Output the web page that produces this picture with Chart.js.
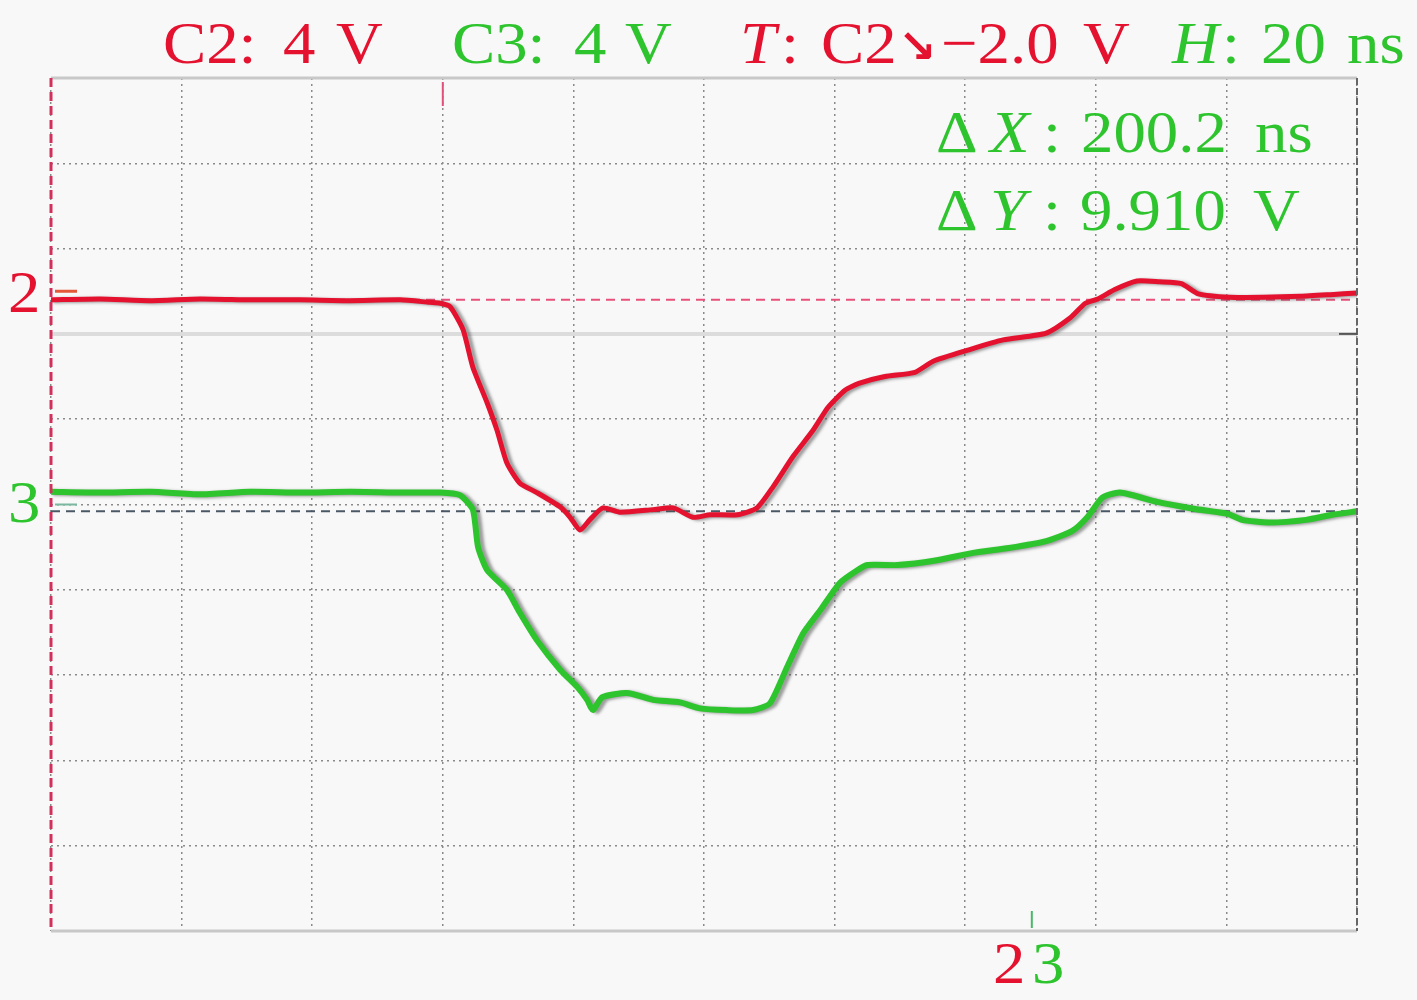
<!DOCTYPE html>
<html>
<head>
<meta charset="utf-8">
<script src="https://cdn.jsdelivr.net/npm/chart.js@4"></script>
<style>
  html, body { margin: 0; padding: 0; background: #f8f8f8; }
  #wrap { width: 1417px; height: 1000px; position: relative; }
</style>
</head>
<body>
<div id="wrap"><canvas id="scope"></canvas></div>
<script>
// time axis in ns (20 ns/div), vertical axis in screen divisions
const c2Time = [0, 7.5, 15.2, 22.8, 30.5, 38.1, 45.8, 53.5, 58.0, 59.6, 61.1, 63.1, 64.6, 66.8, 68.3, 69.8,
  71.8, 74.4, 78.0, 79.5, 81.0, 82.5, 84.5, 87.1, 92.2, 95.3, 98.3, 100.9, 105.1, 108.1, 110.6, 113.6,
  116.7, 119.0, 121.6, 123.7, 127.7, 132.3, 135.1, 140.4, 145.8, 152.4, 156.1, 158.4, 160.3, 162.9,
  166.3, 169.8, 173.1, 175.7, 180.6, 185.6, 191.3, 195.9, 200];
const c2Level = [2.40, 2.41, 2.39, 2.41, 2.40, 2.40, 2.39, 2.40, 2.37, 2.36, 2.32, 2.05, 1.61, 1.19, 0.87, 0.49,
  0.25, 0.14, -0.03, -0.15, -0.30, -0.18, -0.04, -0.09, -0.06, -0.04, -0.15, -0.12, -0.12, -0.04, 0.21, 0.56,
  0.87, 1.14, 1.34, 1.42, 1.50, 1.55, 1.68, 1.81, 1.93, 2.01, 2.19, 2.36, 2.41, 2.52,
  2.62, 2.61, 2.59, 2.47, 2.43, 2.43, 2.44, 2.46, 2.48];

const c3Time = [0, 7.5, 15.2, 22.8, 30.5, 38.1, 45.8, 53.5, 59.6, 62.6, 64.6, 65.4, 66.8, 69.8, 71.8, 74.4,
  78.0, 80.6, 82.1, 83.0, 84.4, 88.2, 92.2, 96.3, 99.4, 103.5, 107.5, 110.1, 112.7, 115.2, 117.8, 120.8,
  123.3, 125.0, 129.6, 135.2, 141.0, 146.7, 152.4, 156.4, 158.7, 161.0, 163.7, 169.4, 175.0, 180.2, 182.4,
  186.5, 192.2, 196.2, 200];
const c3Level = [0.15, 0.14, 0.15, 0.12, 0.15, 0.14, 0.15, 0.14, 0.14, 0.11, -0.06, -0.50, -0.77, -1.00, -1.27, -1.59,
  -1.94, -2.14, -2.29, -2.41, -2.26, -2.21, -2.29, -2.32, -2.39, -2.41, -2.41, -2.33, -1.91, -1.51, -1.24, -0.92,
  -0.78, -0.71, -0.71, -0.66, -0.57, -0.51, -0.43, -0.31, -0.15, 0.08, 0.14, 0.03, -0.05, -0.11, -0.18,
  -0.21, -0.18, -0.12, -0.08];

// cursor / reference levels
const c2Ref = 2.4;
const c3Ref = -0.08;
const cursorLevel = 2;
const triggerTime = 60;
const cursorTime = 150.2;

const RED = '#e4112f';
const GREEN = '#2ec42e';

function pairs(xs, ys) {
  return xs.map((x, i) => ({ x: x, y: ys[i] }));
}

function hline(y) {
  return [{ x: 0, y: y }, { x: 200, y: y }];
}

const SERIF = '"Liberation Serif", "DejaVu Serif", serif';

const headerTokens = [
  { s: 'C2:', x: 163, y: 63, c: RED },
  { s: '4', x: 283, y: 63, c: RED },
  { s: 'V', x: 336, y: 63, c: RED },
  { s: 'C3:', x: 452, y: 63, c: GREEN },
  { s: '4', x: 574, y: 63, c: GREEN },
  { s: 'V', x: 625, y: 63, c: GREEN },
  { s: 'T', x: 740, y: 63, c: RED, it: true },
  { s: ':', x: 781, y: 63, c: RED },
  { s: 'C2', x: 821, y: 63, c: RED },
  { s: '\u2198', x: 898, y: 62, c: RED, f: 'bold 46px "DejaVu Sans"' },
  { s: '\u22122.0', x: 941, y: 63, c: RED },
  { s: 'V', x: 1083, y: 63, c: RED },
  { s: 'H', x: 1172, y: 63, c: GREEN, it: true },
  { s: ':', x: 1222, y: 63, c: GREEN },
  { s: '20', x: 1261, y: 63, c: GREEN },
  { s: 'ns', x: 1347, y: 63, c: GREEN },
  { s: '\u0394', x: 936, y: 152, c: GREEN },
  { s: 'X', x: 990, y: 152, c: GREEN, it: true },
  { s: ':', x: 1043, y: 152, c: GREEN },
  { s: '200.2', x: 1081, y: 152, c: GREEN },
  { s: 'ns', x: 1255, y: 152, c: GREEN },
  { s: '\u0394', x: 936, y: 230, c: GREEN },
  { s: 'Y', x: 990, y: 230, c: GREEN, it: true },
  { s: ':', x: 1043, y: 230, c: GREEN },
  { s: '9.910', x: 1080, y: 230, c: GREEN },
  { s: 'V', x: 1253, y: 230, c: GREEN },
  { s: '2', x: 8, y: 312, c: RED },
  { s: '3', x: 8, y: 522, c: GREEN },
  { s: '2', x: 993, y: 983, c: RED },
  { s: '3', x: 1032, y: 983, c: GREEN }
];

// gray persistence glow behind the live traces
const traceShadow = {
  id: 'traceShadow',
  beforeDatasetDraw(chart, args) {
    const lbl = args.meta.label;
    if (lbl === 'C2' || lbl === 'C3') {
      const ctx = chart.ctx;
      ctx.save();
      ctx.shadowColor = 'rgba(80,80,80,0.55)';
      ctx.shadowOffsetX = 4;
      ctx.shadowOffsetY = 1;
      ctx.shadowBlur = 3;
    }
  },
  afterDatasetDraw(chart, args) {
    const lbl = args.meta.label;
    if (lbl === 'C2' || lbl === 'C3') {
      chart.ctx.restore();
    }
  }
};

const scopeDecor = {
  id: 'scopeDecor',
  afterDatasetsDraw(chart) {
    const ctx = chart.ctx;
    const a = chart.chartArea;
    const xs = chart.scales.x;
    const ys = chart.scales.y;
    ctx.save();
    // frame
    ctx.lineWidth = 3;
    ctx.strokeStyle = '#c8c8c8';
    ctx.beginPath();
    ctx.moveTo(a.left, a.top); ctx.lineTo(a.right, a.top);
    ctx.moveTo(a.left, a.bottom); ctx.lineTo(a.right, a.bottom);
    ctx.stroke();
    ctx.lineWidth = 2;
    ctx.strokeStyle = '#666';
    ctx.setLineDash([7, 3]);
    ctx.beginPath();
    ctx.moveTo(a.right, a.top); ctx.lineTo(a.right, a.bottom);
    ctx.stroke();
    ctx.lineWidth = 3;
    ctx.strokeStyle = '#d2305a';
    ctx.setLineDash([9, 5]);
    ctx.beginPath();
    ctx.moveTo(a.left, a.top); ctx.lineTo(a.left, a.bottom);
    ctx.stroke();
    ctx.setLineDash([]);
    // trigger marker
    const tx = xs.getPixelForValue(triggerTime);
    ctx.strokeStyle = '#e0507a';
    ctx.lineWidth = 2;
    ctx.beginPath();
    ctx.moveTo(tx, a.top + 4); ctx.lineTo(tx, a.top + 28);
    ctx.stroke();
    // channel offset marks
    ctx.lineWidth = 3;
    ctx.strokeStyle = '#e35a3a';
    ctx.beginPath();
    ctx.moveTo(a.left + 4, ys.getPixelForValue(2.5)); ctx.lineTo(a.left + 26, ys.getPixelForValue(2.5));
    ctx.stroke();
    ctx.lineWidth = 2;
    ctx.strokeStyle = '#7ab8a0';
    ctx.beginPath();
    ctx.moveTo(a.left + 4, ys.getPixelForValue(0)); ctx.lineTo(a.left + 26, ys.getPixelForValue(0));
    ctx.stroke();
    ctx.strokeStyle = '#555';
    ctx.beginPath();
    ctx.moveTo(a.right - 18, ys.getPixelForValue(cursorLevel)); ctx.lineTo(a.right, ys.getPixelForValue(cursorLevel));
    ctx.stroke();
    // cursor time tick at bottom
    const cx = xs.getPixelForValue(cursorTime);
    ctx.strokeStyle = '#48b868';
    ctx.lineWidth = 2;
    ctx.beginPath();
    ctx.moveTo(cx, a.bottom - 20); ctx.lineTo(cx, a.bottom - 3);
    ctx.stroke();
    // texts, slightly widened to mimic the wide TeX face
    ctx.textBaseline = 'alphabetic';
    ctx.textAlign = 'left';
    headerTokens.forEach(t => {
      ctx.save();
      ctx.font = t.f || ((t.it ? 'italic ' : '') + '60px ' + SERIF);
      ctx.fillStyle = t.c;
      ctx.translate(t.x, t.y);
      ctx.scale(t.f ? 1 : 1.08, 1);
      ctx.fillText(t.s, 0, 0);
      ctx.restore();
    });
    ctx.restore();
  }
};

const gridDash = [2, 4];

new Chart(document.getElementById('scope'), {
  type: 'line',
  data: {
    datasets: [
      {
        label: 'cursor',
        data: hline(cursorLevel),
        borderColor: '#dcdcdc',
        borderWidth: 4,
        pointRadius: 0,
        order: 5
      },
      {
        label: 'C2 ref',
        data: hline(c2Ref),
        borderColor: '#e8507a',
        borderWidth: 2,
        borderDash: [9, 6],
        pointRadius: 0,
        order: 4
      },
      {
        label: 'C3 ref',
        data: hline(c3Ref),
        borderColor: '#4a5866',
        borderWidth: 2,
        borderDash: [9, 6],
        pointRadius: 0,
        order: 4
      },
      {
        label: 'C3',
        data: pairs(c3Time, c3Level),
        borderColor: GREEN,
        borderWidth: 6,
        pointRadius: 0,
        tension: 0.2,
        borderJoinStyle: 'round',
        borderCapStyle: 'round',
        order: 2
      },
      {
        label: 'C2',
        data: pairs(c2Time, c2Level),
        borderColor: RED,
        borderWidth: 5,
        pointRadius: 0,
        tension: 0.2,
        borderJoinStyle: 'round',
        borderCapStyle: 'round',
        order: 1
      }
    ]
  },
  options: {
    responsive: true,
    maintainAspectRatio: false,
    animation: false,
    layout: { padding: { left: 51, top: 78, right: 60, bottom: 69 } },
    plugins: {
      legend: { display: false },
      tooltip: { enabled: false }
    },
    scales: {
      x: {
        type: 'linear',
        min: 0,
        max: 200,
        ticks: { display: false, stepSize: 20 },
        grid: { color: '#8a8a8a', lineWidth: 1.5, drawTicks: false },
        border: { display: false, dash: gridDash }
      },
      y: {
        type: 'linear',
        min: -5,
        max: 5,
        ticks: { display: false, stepSize: 1 },
        grid: { color: '#8a8a8a', lineWidth: 1.5, drawTicks: false },
        border: { display: false, dash: gridDash }
      }
    }
  },
  plugins: [traceShadow, scopeDecor]
});
</script>
</body>
</html>
